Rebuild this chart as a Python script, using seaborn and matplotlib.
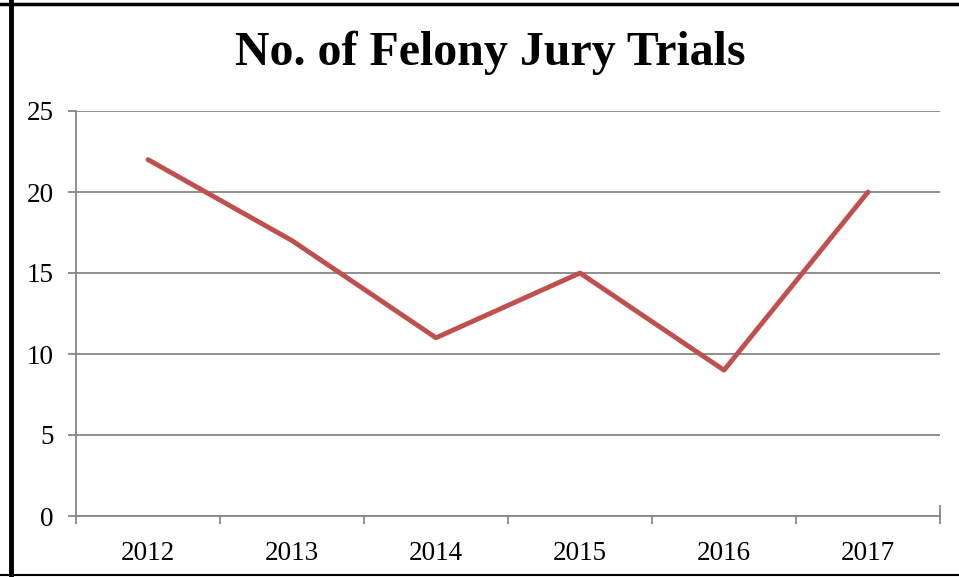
import numpy as np
import pandas as pd
import matplotlib
matplotlib.use("Agg")
import matplotlib.pyplot as plt
import seaborn as sns
from matplotlib.lines import Line2D

years = [2012, 2013, 2014, 2015, 2016, 2017]
trials = [22, 17, 11, 15, 9, 20]
y_ticks = [0, 5, 10, 15, 20, 25]

df = pd.DataFrame({"year": years, "trials": trials})

sns.set_style("white")
plt.rcParams["font.family"] = ["Liberation Serif", "DejaVu Serif"]
plt.rcParams["text.color"] = "black"
plt.rcParams["xtick.labelcolor"] = "black"
plt.rcParams["ytick.labelcolor"] = "black"

fig = plt.figure(figsize=(9.59, 5.77), dpi=100)
ax = fig.add_axes([76 / 959, 1 - 516 / 577, (940 - 76) / 959, (516 - 111) / 577])

grid_c = "#868686"
for v in y_ticks:
    ax.axhline(v, color=grid_c, lw=1.3, zorder=1)

sns.lineplot(data=df, x="year", y="trials", color="#C0504D", lw=3.5, ax=ax, zorder=3)

ax.set_xlim(years[0] - 0.5, years[-1] + 0.5)
ax.set_ylim(0, 25)
ax.set_yticks(y_ticks)
ax.set_yticklabels([str(v) for v in y_ticks], fontsize=19.5)

# category boundary ticks, labels centered
ax.set_xticks(np.arange(years[0] - 0.5, years[-1] + 1, 1.0))
ax.set_xticklabels([])
ax.set_xticks(years, minor=True)
ax.set_xticklabels([str(y) for y in years], minor=True, fontsize=19.5)
ax.tick_params(axis="x", which="major", direction="out", length=6, width=1.3, color=grid_c, bottom=True)
ax.tick_params(axis="x", which="minor", length=0, pad=18)
ax.tick_params(axis="y", direction="out", length=6, width=1.3, color=grid_c, left=True, pad=10)

for s in ["top", "right"]:
    ax.spines[s].set_visible(False)
for s in ["left", "right", "bottom"]:
    ax.spines[s].set_color(grid_c)
    ax.spines[s].set_linewidth(1.3)
ax.spines["right"].set_visible(True)
ax.spines["right"].set_bounds(0, 0.6)
ax.set_xlabel("")
ax.set_ylabel("")

fig.text(490 / 959, 1 - 53 / 577, "No. of Felony Jury Trials", ha="center", va="center",
         fontsize=34.5, fontweight="bold", color="black")

# outer border
fig.add_artist(Line2D([10.5 / 959, 10.5 / 959], [0, 1], color="black", lw=3.5))
fig.add_artist(Line2D([0, 1], [1 - 3.5 / 577, 1 - 3.5 / 577], color="black", lw=2.5))
fig.add_artist(Line2D([0, 1], [1 - 575 / 577, 1 - 575 / 577], color="black", lw=1.5))

fig.savefig("out.png", dpi=100)
